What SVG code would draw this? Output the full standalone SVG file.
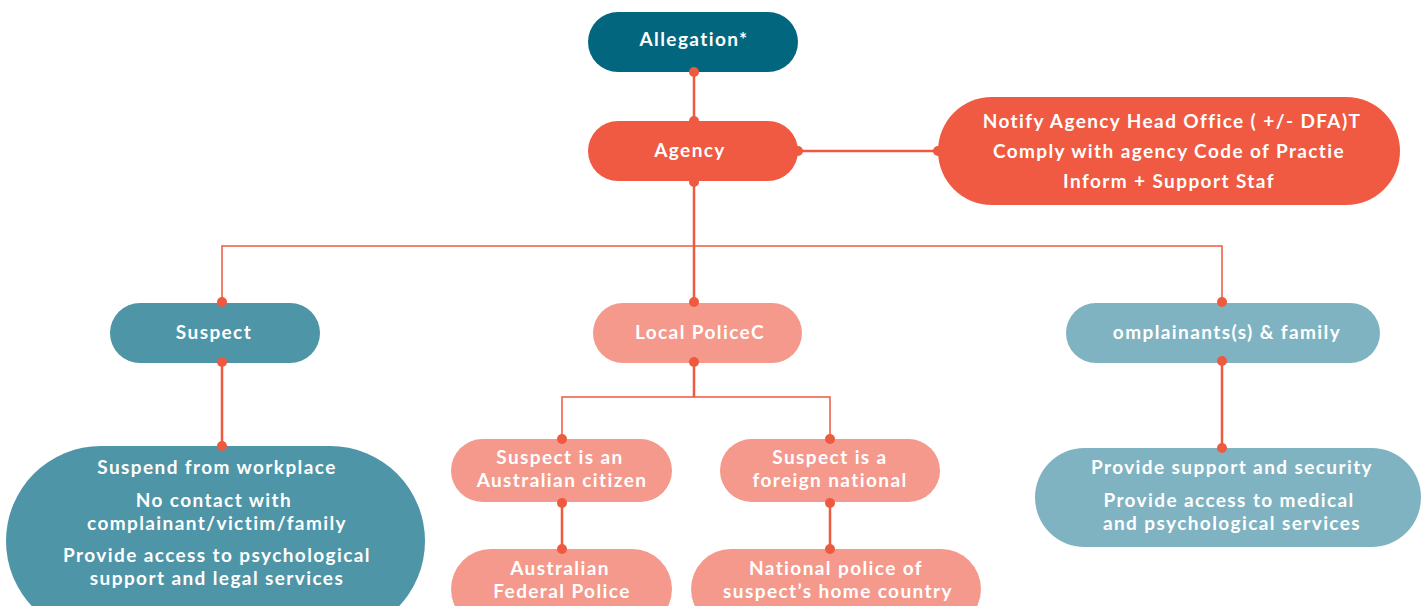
<svg xmlns="http://www.w3.org/2000/svg" width="1427" height="606" viewBox="0 0 1427 606">
  <style>
    text { font-family: Lato, "Open Sans", "Liberation Sans", sans-serif; font-weight: 700; font-size: 19px; letter-spacing: 1.4px; fill: #ffffff; text-anchor: middle; }
    .line { stroke: #ee5a3f; fill: none; }
    .thin { stroke-width: 1.5; }
    .thick { stroke-width: 2.5; }
    .dot { fill: #ee5a3f; }
    .c-dark { fill: #02667e; }
    .c-red { fill: #f05a42; }
    .c-teal { fill: #4e95a7; }
    .c-salmon { fill: #f4998b; }
    .c-light { fill: #80b3c1; }
  </style>

  <!-- connectors -->
  <g id="connectors">
    <line class="line thick" x1="694" y1="72" x2="694" y2="121"/>
    <line class="line thick" x1="798" y1="151" x2="938" y2="151"/>
    <line class="line thick" x1="694" y1="182" x2="694" y2="302"/>
    <polyline class="line thin" points="222,302 222,246 1222,246 1222,302"/>
    <line class="line thick" x1="222" y1="362" x2="222" y2="446"/>
    <polyline class="line thin" points="562,439 562,397 830,397 830,439"/>
    <line class="line thick" x1="694" y1="362" x2="694" y2="397"/>
    <line class="line thick" x1="562" y1="503" x2="562" y2="549"/>
    <line class="line thick" x1="830" y1="503" x2="830" y2="549"/>
    <line class="line thick" x1="1222" y1="361" x2="1222" y2="448"/>
  </g>

  <g id="allegation">
    <rect class="c-dark" x="588" y="12" width="210" height="60" rx="30"/>
    <text x="694" y="46">Allegation*</text>
  </g>

  <g id="agency">
    <rect class="c-red" x="588" y="121" width="210" height="60" rx="30"/>
    <text x="690" y="157">Agency</text>
  </g>

  <g id="agency-actions">
    <rect class="c-red" x="938" y="97" width="462" height="108" rx="54"/>
    <text x="1172" y="128">Notify Agency Head Office ( +/- DFA)T</text>
    <text x="1169" y="158">Comply with agency Code of Practie</text>
    <text x="1169" y="188">Inform + Support Staf</text>
  </g>

  <g id="suspect">
    <rect class="c-teal" x="110" y="303" width="210" height="60" rx="30"/>
    <text x="214" y="339">Suspect</text>
  </g>

  <g id="local-police">
    <rect class="c-salmon" x="593" y="303" width="209" height="60" rx="30"/>
    <text x="700" y="339">Local PoliceC</text>
  </g>

  <g id="complainants">
    <rect class="c-light" x="1066" y="303" width="314" height="60" rx="30"/>
    <text x="1227" y="339">omplainants(s) &amp; family</text>
  </g>

  <g id="suspect-actions">
    <rect class="c-teal" x="6" y="446" width="419" height="190" rx="95"/>
    <text x="217" y="474">Suspend from workplace</text>
    <text x="214" y="507">No contact with</text>
    <text x="217" y="530">complainant/victim/family</text>
    <text x="217" y="562">Provide access to psychological</text>
    <text x="217" y="585">support and legal services</text>
  </g>

  <g id="australian-citizen">
    <rect class="c-salmon" x="451" y="439" width="221" height="63" rx="31.5"/>
    <text x="560" y="464">Suspect is an</text>
    <text x="562" y="487">Australian citizen</text>
  </g>

  <g id="foreign-national">
    <rect class="c-salmon" x="720" y="439" width="220" height="63" rx="31.5"/>
    <text x="830" y="464">Suspect is a</text>
    <text x="830" y="487">foreign national</text>
  </g>

  <g id="afp">
    <rect class="c-salmon" x="451" y="549" width="221" height="80" rx="40"/>
    <text x="560" y="575">Australian</text>
    <text x="562" y="598">Federal Police</text>
  </g>

  <g id="national-police">
    <rect class="c-salmon" x="691" y="549" width="290" height="80" rx="40"/>
    <text x="836" y="575">National police of</text>
    <text x="838" y="598">suspect’s home country</text>
  </g>

  <g id="complainant-actions">
    <rect class="c-light" x="1035" y="448" width="386" height="99" rx="49.5"/>
    <text x="1232" y="474">Provide support and security</text>
    <text x="1229" y="507">Provide access to medical</text>
    <text x="1232" y="530">and psychological services</text>
  </g>

  <!-- connection dots -->
  <g id="dots">
    <circle class="dot" cx="694" cy="72" r="5"/>
    <circle class="dot" cx="694" cy="121" r="5"/>
    <circle class="dot" cx="798" cy="151" r="5"/>
    <circle class="dot" cx="938" cy="151" r="5"/>
    <circle class="dot" cx="694" cy="182" r="5"/>
    <circle class="dot" cx="222" cy="302" r="5"/>
    <circle class="dot" cx="694" cy="302" r="5"/>
    <circle class="dot" cx="1222" cy="302" r="5"/>
    <circle class="dot" cx="222" cy="362" r="5"/>
    <circle class="dot" cx="694" cy="362" r="5"/>
    <circle class="dot" cx="1222" cy="361" r="5"/>
    <circle class="dot" cx="222" cy="446" r="5"/>
    <circle class="dot" cx="562" cy="439" r="5"/>
    <circle class="dot" cx="830" cy="439" r="5"/>
    <circle class="dot" cx="562" cy="503" r="5"/>
    <circle class="dot" cx="830" cy="503" r="5"/>
    <circle class="dot" cx="562" cy="549" r="5"/>
    <circle class="dot" cx="830" cy="549" r="5"/>
    <circle class="dot" cx="1222" cy="448" r="5"/>
  </g>
</svg>
